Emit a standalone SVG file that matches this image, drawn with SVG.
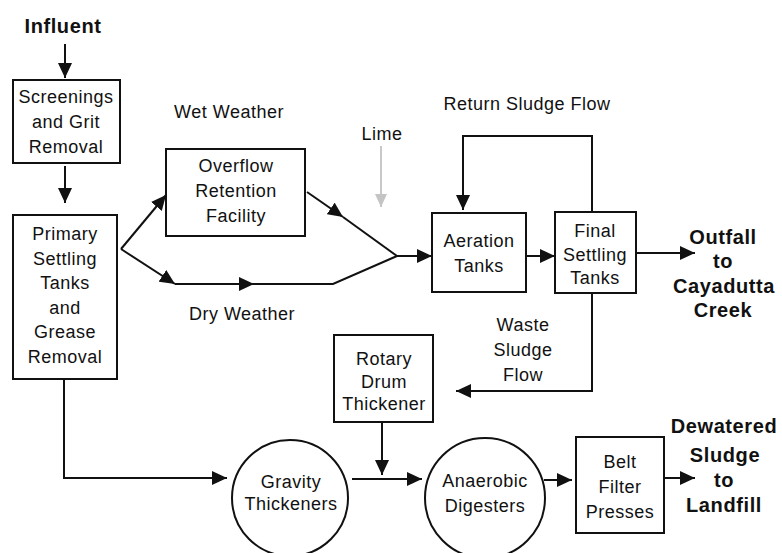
<svg xmlns="http://www.w3.org/2000/svg" width="782" height="553" viewBox="0 0 782 553">
<style>
text{font-family:"Liberation Sans",Arial,sans-serif;fill:#111;text-anchor:middle}
.t{font-size:18px;letter-spacing:0.5px}
.b{font-size:20px;font-weight:bold;letter-spacing:0.6px}
.box{fill:#fff;stroke:#111;stroke-width:2}
.c{fill:none;stroke:#111;stroke-width:2}
.a{marker-end:url(#ah)}
</style>
<defs>
<marker id="ah" markerUnits="userSpaceOnUse" markerWidth="16" markerHeight="14" refX="15" refY="7" orient="auto"><path d="M0,0 L15,7 L0,14 z" fill="#111"/></marker>
<marker id="ahg" markerUnits="userSpaceOnUse" markerWidth="14" markerHeight="14" refX="13" refY="7" orient="auto"><path d="M0,1 L13,7 L0,13 z" fill="#c4c4c4"/></marker>
</defs>
<rect width="782" height="553" fill="#fff"/>
<g id="connectors">
<path class="c a" d="M65,44 L65,78"/>
<path class="c a" d="M65,166 L65,203"/>
<path class="c a" d="M121,249 L166,195"/>
<path class="c a" d="M121,249 L175,284"/>
<path class="c a" d="M175,284 L254,284"/>
<path class="c" d="M254,284 L333,284 L397,256"/>
<path class="c a" d="M307,192 L343,217"/>
<path class="c" d="M343,217 L397,256"/>
<path class="c a" d="M397,256 L432,256"/>
<path class="c a" d="M526,256 L555,256"/>
<path class="c a" d="M636,253 L695,253"/>
<path class="c a" d="M592,212 L592,136 L463,136 L463,210"/>
<path class="c a" d="M592,293 L592,391 L456,391"/>
<path class="c a" d="M382,422 L382,475"/>
<path class="c a" d="M352,479 L422,479"/>
<path class="c a" d="M64,379 L64,478 L227,478"/>
<path class="c a" d="M544,480 L572,480"/>
<path class="c a" d="M664,478 L695,478"/>
<path d="M381,146 L381,207" fill="none" stroke="#c8c8c8" stroke-width="2" marker-end="url(#ahg)"/>
</g>
<g id="influent"><text class="b" x="63" y="33">Influent</text></g>
<g id="screenings"><rect class="box" x="13" y="80" width="107" height="83"/><text class="t" x="66" y="103">Screenings</text><text class="t" x="66" y="128">and Grit</text><text class="t" x="66" y="153">Removal</text></g>
<g id="primary"><rect class="box" x="13" y="215" width="104" height="164"/><text class="t" x="65" y="240">Primary</text><text class="t" x="65" y="264.5">Settling</text><text class="t" x="65" y="289">Tanks</text><text class="t" x="65" y="313.5">and</text><text class="t" x="65" y="338">Grease</text><text class="t" x="65" y="363">Removal</text></g>
<g id="wet"><text class="t" x="229" y="118">Wet Weather</text></g>
<g id="dry"><text class="t" x="242" y="320">Dry Weather</text></g>
<g id="overflow"><rect class="box" x="166" y="149" width="139" height="87"/><text class="t" x="236" y="172">Overflow</text><text class="t" x="236" y="197">Retention</text><text class="t" x="236" y="222">Facility</text></g>
<g id="lime"><text class="t" x="382" y="140">Lime</text></g>
<g id="return"><text class="t" x="527" y="110">Return Sludge Flow</text></g>
<g id="aeration"><rect class="box" x="432" y="213" width="94" height="79"/><text class="t" x="479" y="247">Aeration</text><text class="t" x="479" y="272">Tanks</text></g>
<g id="final"><rect class="box" x="555" y="212" width="81" height="81"/><text class="t" x="595" y="237">Final</text><text class="t" x="595" y="260.5">Settling</text><text class="t" x="595" y="284">Tanks</text></g>
<g id="outfall"><text class="b" x="723" y="244">Outfall</text><text class="b" x="723" y="268">to</text><text class="b" x="724" y="293">Cayadutta</text><text class="b" x="723" y="317">Creek</text></g>
<g id="waste"><text class="t" x="523" y="331">Waste</text><text class="t" x="523" y="356">Sludge</text><text class="t" x="523" y="381">Flow</text></g>
<g id="rotary"><rect class="box" x="334" y="335" width="99" height="87"/><text class="t" x="384" y="365">Rotary</text><text class="t" x="384" y="387.5">Drum</text><text class="t" x="384" y="410">Thickener</text></g>
<g id="gravity"><circle class="box" cx="290" cy="498" r="58"/><text class="t" x="291" y="488">Gravity</text><text class="t" x="291" y="510">Thickeners</text></g>
<g id="anaerobic"><circle class="box" cx="485" cy="498" r="60"/><text class="t" x="485" y="487">Anaerobic</text><text class="t" x="485" y="512">Digesters</text></g>
<g id="belt"><rect class="box" x="576" y="437" width="88" height="96"/><text class="t" x="620" y="468">Belt</text><text class="t" x="620" y="493">Filter</text><text class="t" x="620" y="518">Presses</text></g>
<g id="dewatered"><text class="b" x="724" y="433">Dewatered</text><text class="b" x="725" y="462">Sludge</text><text class="b" x="724" y="487">to</text><text class="b" x="724" y="512">Landfill</text></g>
</svg>
